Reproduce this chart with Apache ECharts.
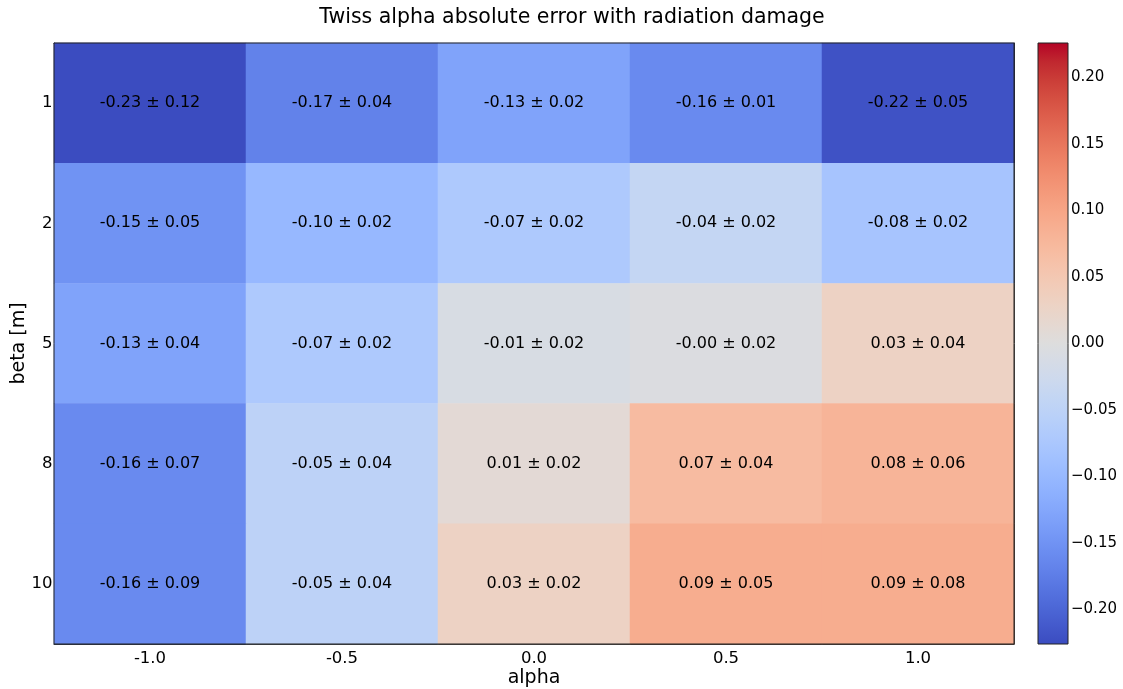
<!DOCTYPE html>
<html>
<head>
<meta charset="utf-8">
<script src="https://cdn.jsdelivr.net/npm/echarts@6/dist/echarts.min.js"></script>
<style>
  html, body { margin: 0; padding: 0; background: #ffffff; }
  #chart { width: 1123px; height: 689px; }
</style>
</head>
<body>
<div id="chart"></div>
<script>
// Grid of scan settings
const alphaLabels = ['-1.0', '-0.5', '0.0', '0.5', '1.0'];
const betaLabels = ['1', '2', '5', '8', '10'];

// Mean error per cell, rows follow betaLabels, columns follow alphaLabels
const meanErr = [
  [-0.226, -0.17, -0.13, -0.16, -0.22],
  [-0.15, -0.10, -0.07, -0.04, -0.08],
  [-0.13, -0.07, -0.01, -0.004, 0.03],
  [-0.16, -0.05, 0.01, 0.07, 0.08],
  [-0.16, -0.05, 0.03, 0.09, 0.09]
];
// Standard deviation per cell
const stdErr = [
  [0.12, 0.04, 0.02, 0.01, 0.05],
  [0.05, 0.02, 0.02, 0.02, 0.02],
  [0.04, 0.02, 0.02, 0.02, 0.04],
  [0.07, 0.04, 0.02, 0.04, 0.06],
  [0.09, 0.04, 0.02, 0.05, 0.08]
];
// Colour bar ticks
const cbarTicks = [-0.20, -0.15, -0.10, -0.05, 0.00, 0.05, 0.10, 0.15, 0.20];
const vLimit = 0.226;

// coolwarm colour map stops
const coolwarm = [
  [59,76,192],[68,90,204],[77,104,215],[87,117,225],[98,130,234],[108,142,241],
  [119,154,247],[130,165,251],[141,176,254],[152,185,255],[163,194,255],[174,201,253],
  [184,208,249],[194,213,244],[204,217,238],[213,219,230],[221,221,221],[229,216,209],
  [236,211,197],[241,204,185],[245,196,173],[247,187,160],[247,177,148],[247,166,135],
  [244,154,123],[241,141,111],[236,127,99],[229,112,88],[222,96,77],[213,80,66],
  [203,62,56],[192,40,47],[180,4,38]
].map(c => 'rgb(' + c.join(',') + ')');

const cells = [];
meanErr.forEach((row, r) => {
  row.forEach((v, c) => {
    cells.push([c, r, v, stdErr[r][c]]);
  });
});

const fmt = v => v.toFixed(2);

const font = 'DejaVu Sans';
const chart = echarts.init(document.getElementById('chart'));
chart.setOption({
  animation: false,
  textStyle: { fontFamily: font },
  title: {
    text: 'Twiss alpha absolute error with radiation damage',
    left: 567, top: 2, textAlign: 'center',
    textStyle: { fontFamily: font, fontSize: 20.5, fontWeight: 'normal', color: '#000' }
  },
  grid: [
    { left: 54, top: 43, width: 960, height: 601, show: true, borderColor: '#222', borderWidth: 1, backgroundColor: 'transparent', z: 5, outerBoundsMode: 'none', containLabel: false },
    { left: 1038, top: 43, width: 30, height: 601, show: true, borderColor: '#222', borderWidth: 1, backgroundColor: 'transparent', z: 5, outerBoundsMode: 'none', containLabel: false }
  ],
  xAxis: [
    {
      type: 'category', data: alphaLabels, gridIndex: 0, position: 'bottom',
      name: 'alpha', nameLocation: 'middle', nameGap: 25, nameMoveOverlap: false,
      nameTextStyle: { fontFamily: font, fontSize: 19, color: '#000' },
      axisLine: { lineStyle: { color: '#222' } },
      axisTick: { inside: true, length: 4, alignWithLabel: true, lineStyle: { color: '#222' } },
      axisLabel: { fontFamily: font, fontSize: 16.5, color: '#000', margin: 6 },
      splitLine: { show: false }
    },
    {
      type: 'category', data: alphaLabels, gridIndex: 0, position: 'top',
      axisLine: { lineStyle: { color: '#222' } },
      axisTick: { inside: true, length: 4, alignWithLabel: true, lineStyle: { color: '#222' } },
      axisLabel: { show: false }, splitLine: { show: false }
    },
    {
      type: 'category', data: [''], gridIndex: 1,
      axisLine: { show: false }, axisTick: { show: false }, axisLabel: { show: false }
    }
  ],
  yAxis: [
    {
      type: 'category', data: betaLabels, gridIndex: 0, inverse: true, position: 'left',
      name: 'beta [m]', nameLocation: 'middle', nameGap: 25, nameRotate: 90, nameMoveOverlap: false,
      nameTextStyle: { fontFamily: font, fontSize: 19, color: '#000' },
      axisLine: { lineStyle: { color: '#222' } },
      axisTick: { inside: true, length: 4, alignWithLabel: true, lineStyle: { color: '#222' } },
      axisLabel: { fontFamily: font, fontSize: 16.5, color: '#000', margin: 1.5 },
      splitLine: { show: false }
    },
    {
      type: 'category', data: betaLabels, gridIndex: 0, inverse: true, position: 'right',
      axisLine: { lineStyle: { color: '#222' } },
      axisTick: { inside: true, length: 4, alignWithLabel: true, lineStyle: { color: '#222' } },
      axisLabel: { show: false }, splitLine: { show: false }
    },
    {
      type: 'value', gridIndex: 1, position: 'right', min: -vLimit, max: vLimit,
      axisLine: { show: false },
      axisTick: { show: true, inside: true, length: 3, customValues: cbarTicks, lineStyle: { color: '#222' } },
      axisLabel: {
        show: true, customValues: cbarTicks, fontFamily: font, fontSize: 15, color: '#000', margin: 3,
        formatter: v => v.toFixed(2).replace('-', '\u2212')
      },
      splitLine: { show: false }
    }
  ],
  visualMap: {
    type: 'continuous', min: -vLimit, max: vLimit, dimension: 2, seriesIndex: [0],
    inRange: { color: coolwarm },
    show: false
  },
  series: [
    {
      type: 'heatmap', xAxisIndex: 0, yAxisIndex: 0, data: cells,
      label: {
        show: true, fontFamily: font, fontSize: 16, color: '#000',
        formatter: p => fmt(p.data[2]) + ' \u00b1 ' + fmt(p.data[3])
      },
      itemStyle: { borderWidth: 0 },
      emphasis: { disabled: true }
    },
    {
      // colour bar drawn as a continuous strip along its value axis
      type: 'custom', xAxisIndex: 2, yAxisIndex: 2,
      data: [[0, -vLimit, vLimit]],
      renderItem: (params, api) => {
        const top = api.coord([0, api.value(2)]);
        const bottom = api.coord([0, api.value(1)]);
        const size = api.size([1, 0]);
        const stops = coolwarm.map((c, i) => ({ offset: 1 - i / (coolwarm.length - 1), color: c }));
        return {
          type: 'rect',
          shape: { x: top[0] - size[0] / 2, y: top[1], width: size[0], height: bottom[1] - top[1] },
          style: { fill: new echarts.graphic.LinearGradient(0, 0, 0, 1, stops) }
        };
      }
    }
  ]
});
</script>
</body>
</html>
